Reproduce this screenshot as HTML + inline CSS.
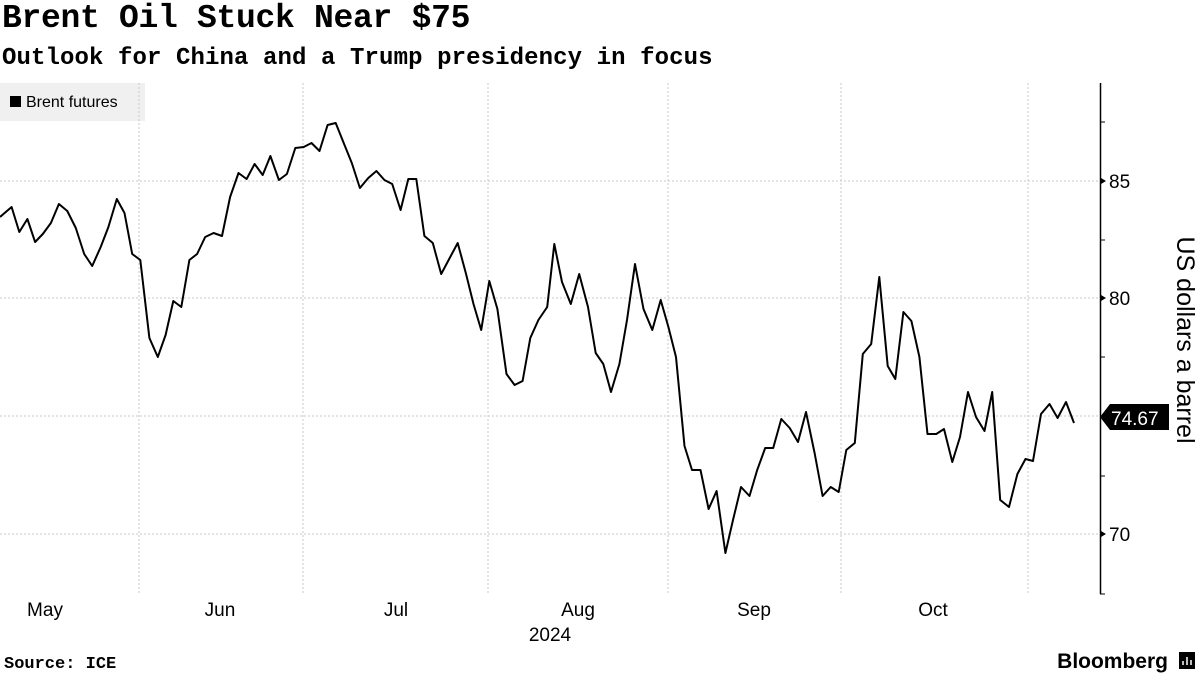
<!DOCTYPE html>
<html><head><meta charset="utf-8"><style>
body{margin:0;width:1200px;height:675px;background:#fff;overflow:hidden;font-family:"Liberation Sans",sans-serif;}
.t{position:absolute;left:2px;top:0px;font-family:"Liberation Mono",monospace;font-size:33px;font-weight:bold;color:#000;letter-spacing:-0.3px}
.s{position:absolute;left:2px;top:45px;font-family:"Liberation Mono",monospace;font-size:24px;font-weight:bold;color:#000;letter-spacing:0.1px}
</style></head><body>
<div class="t">Brent Oil Stuck Near $75</div>
<div class="s">Outlook for China and a Trump presidency in focus</div>
<svg width="1200" height="675" style="position:absolute;left:0;top:0" font-family="Liberation Sans, sans-serif">
<rect x="0" y="83" width="145" height="38" fill="#f0f0f0"/>
<rect x="10" y="96" width="11" height="11" fill="#000"/>
<text x="26" y="107" font-size="16" fill="#000">Brent futures</text>
<g stroke="#c8c8c8" stroke-dasharray="2,2" stroke-width="1">
<line x1="0" y1="181" x2="1100" y2="181"/><line x1="0" y1="298" x2="1100" y2="298"/>
<line x1="0" y1="416" x2="1100" y2="416"/><line x1="0" y1="534" x2="1100" y2="534"/>
<line x1="139" y1="83" x2="139" y2="594"/><line x1="303" y1="83" x2="303" y2="594"/>
<line x1="488" y1="83" x2="488" y2="594"/><line x1="668" y1="83" x2="668" y2="594"/>
<line x1="841" y1="83" x2="841" y2="594"/><line x1="1028" y1="83" x2="1028" y2="594"/>
</g>
<line x1="1100.5" y1="83" x2="1100.5" y2="594" stroke="#000" stroke-width="1.5"/>
<g stroke="#000" stroke-width="1"><line x1="1100" y1="122" x2="1105" y2="122"/><line x1="1100" y1="240" x2="1105" y2="240"/><line x1="1100" y1="357" x2="1105" y2="357"/><line x1="1100" y1="476" x2="1105" y2="476"/><line x1="1100" y1="594" x2="1105" y2="594"/></g>
<g fill="#000"><polygon points="1101,178 1106,181 1101,184"/><polygon points="1101,295 1106,298 1101,301"/><polygon points="1101,531 1106,534 1101,537"/></g>
<g font-size="19" fill="#000"><text x="1109" y="188">85</text><text x="1109" y="305">80</text><text x="1109" y="423">75</text><text x="1109" y="541">70</text></g>
<polygon points="1100,417 1110,404 1169,404 1169,430 1110,430" fill="#000"/>
<text x="1111" y="425" font-size="19" fill="#fff">74.67</text>
<text transform="translate(1177,340) rotate(90)" text-anchor="middle" font-size="25" fill="#000">US dollars a barrel</text>
<polyline fill="none" stroke="#000" stroke-width="2" stroke-linejoin="round" points="0,217 11.6,207 19.3,232 27.4,219 35.1,242 42.8,234 50.9,223 58.9,204 67.3,211 75.8,228 84.2,254 92.2,266 100.7,247 108.4,227 116.8,199 124.5,213 132.2,254 140.3,260 149.4,338 157.8,357 165.6,335 173.3,301 181.3,307 189.4,260 197.1,254 205.2,237 213.6,233 222,236 230.1,197 238.5,173 246.6,179 254.6,164 262.7,175 270.4,156 278.9,180 286.9,174 295.3,148 303.7,147 311.5,143 319.5,151 327.6,125 335.7,123 343.7,143 351.8,163 359.9,188 368.3,178 376.4,171 384.4,180 392.2,184 400.6,210 408.3,179 416.3,179 424.4,236 432.8,243 441.2,274 449.7,258 457.7,243 465.8,273 473.5,304 481.2,330 489.3,281 497.4,309 506.5,374 514.6,385 522.6,381 530.3,338 538.4,320 547.2,307 554.3,244 562,282 570.8,304 579.2,274 588,307 595.7,353 603.3,364 611,392 619.4,364 627,320 635,264 643.5,309 652.3,330 660.7,300 668.4,327 676,357 684.5,446 692,470 700.5,470 708.6,509 716.6,491 725.4,553 733,520 741,487 749.5,496 757.2,470 765.2,448 773.2,448 781.3,419 789.7,428 798,442 806,412 814.6,453 822.6,496 830.7,487 838.7,492 846.3,450 854.8,443 862.8,354 871.2,344 879.3,277 887.7,366 895.3,379 903.4,312 911.4,321 919.4,357 927.5,434 936.3,434 944,429 952.3,462 960,437 968,392 976,417 984.5,431 992.2,392 1000.2,500 1009,507 1017.4,474 1025.5,459 1033,461 1041,414 1049.5,404 1057.6,418 1066,402 1074,423"/>
<g font-size="19" fill="#000" text-anchor="middle"><text x="45" y="616">May</text><text x="220" y="616">Jun</text><text x="396" y="616">Jul</text><text x="578" y="616">Aug</text><text x="754" y="616">Sep</text><text x="933" y="616">Oct</text><text x="550" y="641">2024</text></g>
<text x="4" y="668" font-family="Liberation Mono, monospace" font-size="17" font-weight="bold" fill="#000">Source: ICE</text>
<text x="1168" y="668" font-size="21" font-weight="bold" fill="#000" text-anchor="end">Bloomberg</text>
<rect x="1179" y="652" width="16" height="17" fill="#000"/>
<g stroke="#fff" stroke-width="1.5"><line x1="1183" y1="665" x2="1183" y2="661"/><line x1="1187" y1="665" x2="1187" y2="657"/><line x1="1191" y1="665" x2="1191" y2="660"/></g>
</svg>
</body></html>
